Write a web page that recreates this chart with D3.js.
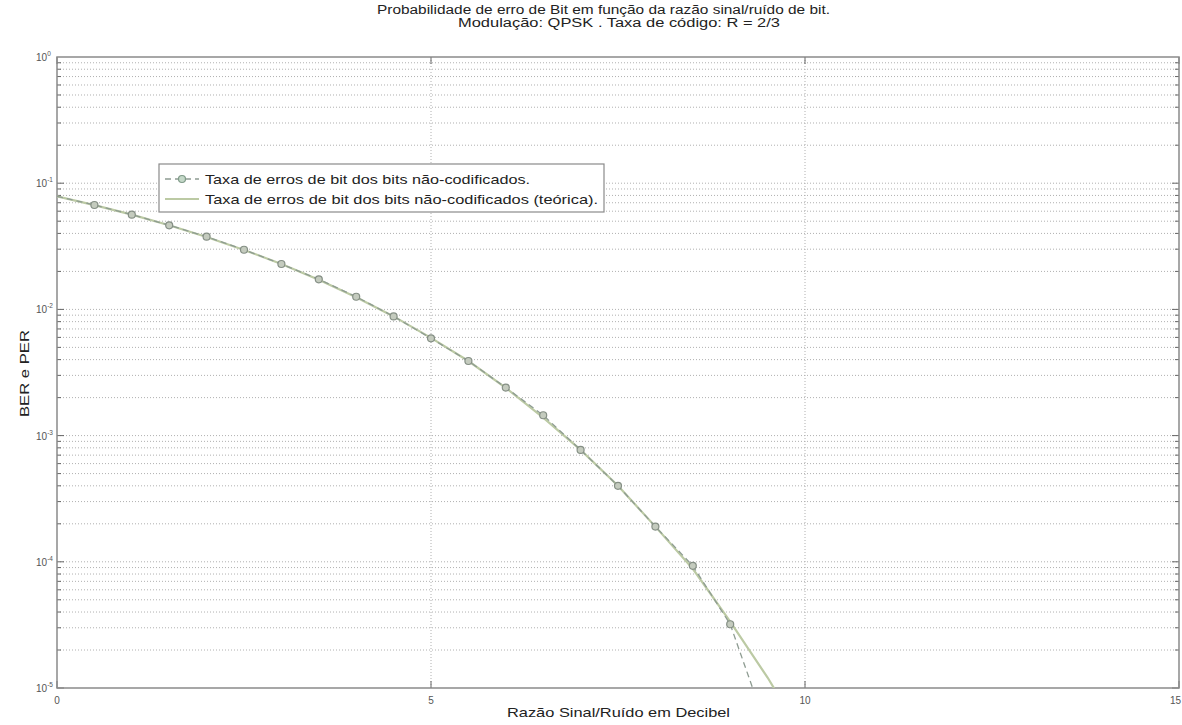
<!DOCTYPE html>
<html>
<head>
<meta charset="utf-8">
<script src="https://cdn.jsdelivr.net/npm/d3@7"></script>
<style>
  body { margin: 0; background: #fff; }
  svg { display: block; font-family: Arial, "Liberation Sans", sans-serif; }
</style>
</head>
<body>
<div id="chart"></div>
<script>
// Eb/N0 em dB
const snrSim = [0, 0.5, 1, 1.5, 2, 2.5, 3, 3.5, 4, 4.5, 5, 5.5, 6, 6.5, 7, 7.5, 8, 8.5, 9, 9.5];
const berSim = [0.0787, 0.0672, 0.0563, 0.0464, 0.0377, 0.0297, 0.0229, 0.0173, 0.0126, 0.0088,
  0.0059, 0.0039, 0.0024, 0.00145, 0.00077, 0.00040, 0.00019, 0.000093, 0.000032, 0.0000046];
const snrTeo = [0, 0.5, 1, 1.5, 2, 2.5, 3, 3.5, 4, 4.5, 5, 5.5, 6, 6.5, 7, 7.5, 8, 8.5, 9, 9.5, 10];
const berTeo = [0.0786, 0.0671, 0.0563, 0.0464, 0.0375, 0.0296, 0.0229, 0.0172, 0.0125, 0.0088,
  0.00595, 0.0039, 0.00239, 0.00139, 0.00077, 0.00040, 0.00019, 0.000088, 0.0000336, 0.0000121, 0.0000039];
const xTicks = [0, 5, 10, 15];
const yExps = [0, -1, -2, -3, -4, -5];
const legendLabels = [
  "Taxa de erros de bit dos bits não-codificados.",
  "Taxa de erros de bit dos bits não-codificados (teórica)."
];

const W = 1182, H = 725;
const L = 57, R = 1179, T = 57, B = 688;

const svg = d3.select("#chart").append("svg").attr("width", W).attr("height", H);

const x = d3.scaleLinear().domain([0, 15]).range([L, R]);
const y = d3.scaleLog().domain([1e-5, 1]).range([B, T]);

// texto esticado na horizontal, como na figura original
function label(g, str, px, py, size, len) {
  return g.append("text").attr("x", px).attr("y", py).attr("font-size", size).attr("fill", "#222")
    .attr("textLength", len).attr("lengthAdjust", "spacingAndGlyphs").text(str);
}

// grade
const minor = [];
yExps.slice(0, -1).forEach(e => { for (let k = 1; k < 10; k++) minor.push(k * Math.pow(10, e - 1)); });
const grid = svg.append("g");
grid.selectAll("line.h").data(minor.filter(v => v > 1e-5)).enter().append("line")
  .attr("x1", L).attr("x2", R).attr("y1", d => y(d)).attr("y2", d => y(d))
  .attr("stroke", "#b0b0b0").attr("stroke-width", 1).attr("stroke-dasharray", "1,2");
grid.selectAll("line.v").data(xTicks.filter(v => v > 0 && v < 15)).enter().append("line")
  .attr("x1", d => x(d)).attr("x2", d => x(d)).attr("y1", T).attr("y2", B)
  .attr("stroke", "#b0b0b0").attr("stroke-width", 1).attr("stroke-dasharray", "1,2");

// ticks nas bordas
const tk = svg.append("g").attr("stroke", "#666");
minor.forEach(v => {
  const len = Math.abs(Math.log10(v) - Math.round(Math.log10(v))) < 1e-9 ? 7 : 4;
  tk.append("line").attr("x1", L).attr("x2", L + len).attr("y1", y(v)).attr("y2", y(v));
  tk.append("line").attr("x1", R).attr("x2", R - len).attr("y1", y(v)).attr("y2", y(v));
});
xTicks.forEach(v => {
  tk.append("line").attr("x1", x(v)).attr("x2", x(v)).attr("y1", B).attr("y2", B - 7);
  tk.append("line").attr("x1", x(v)).attr("x2", x(v)).attr("y1", T).attr("y2", T + 7);
});

svg.append("rect").attr("x", L).attr("y", T).attr("width", R - L).attr("height", B - T)
  .attr("fill", "none").attr("stroke", "#8a8a8a").attr("stroke-width", 1.5);

// rótulos dos eixos
const yl = svg.append("g").attr("fill", "#555").attr("font-size", 10);
yExps.forEach(e => {
  const t = yl.append("text").attr("x", L - 21).attr("y", y(Math.pow(10, e)) + 4);
  t.append("tspan").text("10");
  t.append("tspan").attr("dy", -5).attr("font-size", 6.5).text(e);
});
svg.append("g").selectAll("text").data(xTicks).enter().append("text")
  .attr("x", d => d === 15 ? W - 1 : x(d)).attr("y", B + 16)
  .attr("text-anchor", d => d === 15 ? "end" : "middle")
  .attr("font-size", 10).attr("fill", "#555").text(d => d);

// curvas
svg.append("clipPath").attr("id", "clip").append("rect")
  .attr("x", L).attr("y", T).attr("width", R - L).attr("height", B - T);
const plot = svg.append("g").attr("clip-path", "url(#clip)");
const line = d3.line().x(d => x(d[0])).y(d => y(d[1]));

plot.append("path").datum(snrTeo.map((s, i) => [s, berTeo[i]]))
  .attr("d", line).attr("fill", "none").attr("stroke", "#bccaa4").attr("stroke-width", 2.2);
plot.append("path").datum(snrSim.map((s, i) => [s, berSim[i]]))
  .attr("d", line).attr("fill", "none").attr("stroke", "#8e9c92").attr("stroke-width", 1.3)
  .attr("stroke-dasharray", "6,4");
plot.selectAll("circle").data(snrSim.map((s, i) => [s, berSim[i]]).filter(d => d[0] > 0)).enter()
  .append("circle").attr("cx", d => x(d[0])).attr("cy", d => y(d[1])).attr("r", 3.5)
  .attr("fill", "#c4cbbe").attr("stroke", "#858f85").attr("stroke-width", 1.2);

// legenda
const lg = svg.append("g");
lg.append("rect").attr("x", 159).attr("y", 164).attr("width", 445).attr("height", 48)
  .attr("fill", "#fff").attr("stroke", "#8a8a8a").attr("stroke-width", 1.2);
lg.append("line").attr("x1", 165).attr("x2", 199).attr("y1", 179).attr("y2", 179)
  .attr("stroke", "#8e9c92").attr("stroke-width", 1.3).attr("stroke-dasharray", "6,4");
lg.append("circle").attr("cx", 182).attr("cy", 179).attr("r", 3.5)
  .attr("fill", "#c4d8c8").attr("stroke", "#7f9a88").attr("stroke-width", 1.2);
lg.append("line").attr("x1", 165).attr("x2", 199).attr("y1", 199).attr("y2", 199)
  .attr("stroke", "#bccaa4").attr("stroke-width", 2.2);
label(lg, legendLabels[0], 205, 184, 13.5, 325);
label(lg, legendLabels[1], 205, 204, 13.5, 393);

// títulos
label(svg, "Probabilidade de erro de Bit  em função da razão sinal/ruído de bit.", 377, 14, 12.5, 453);
label(svg, "Modulação: QPSK . Taxa de código: R = 2/3", 458, 27, 12.5, 322);
label(svg, "Razão Sinal/Ruído em Decibel", 507, 717, 13, 223);
svg.append("text").attr("transform", "translate(29,417) rotate(-90)")
  .attr("font-size", 13.5).attr("fill", "#222")
  .attr("textLength", 87).attr("lengthAdjust", "spacingAndGlyphs").text("BER e PER");
</script>
</body>
</html>
